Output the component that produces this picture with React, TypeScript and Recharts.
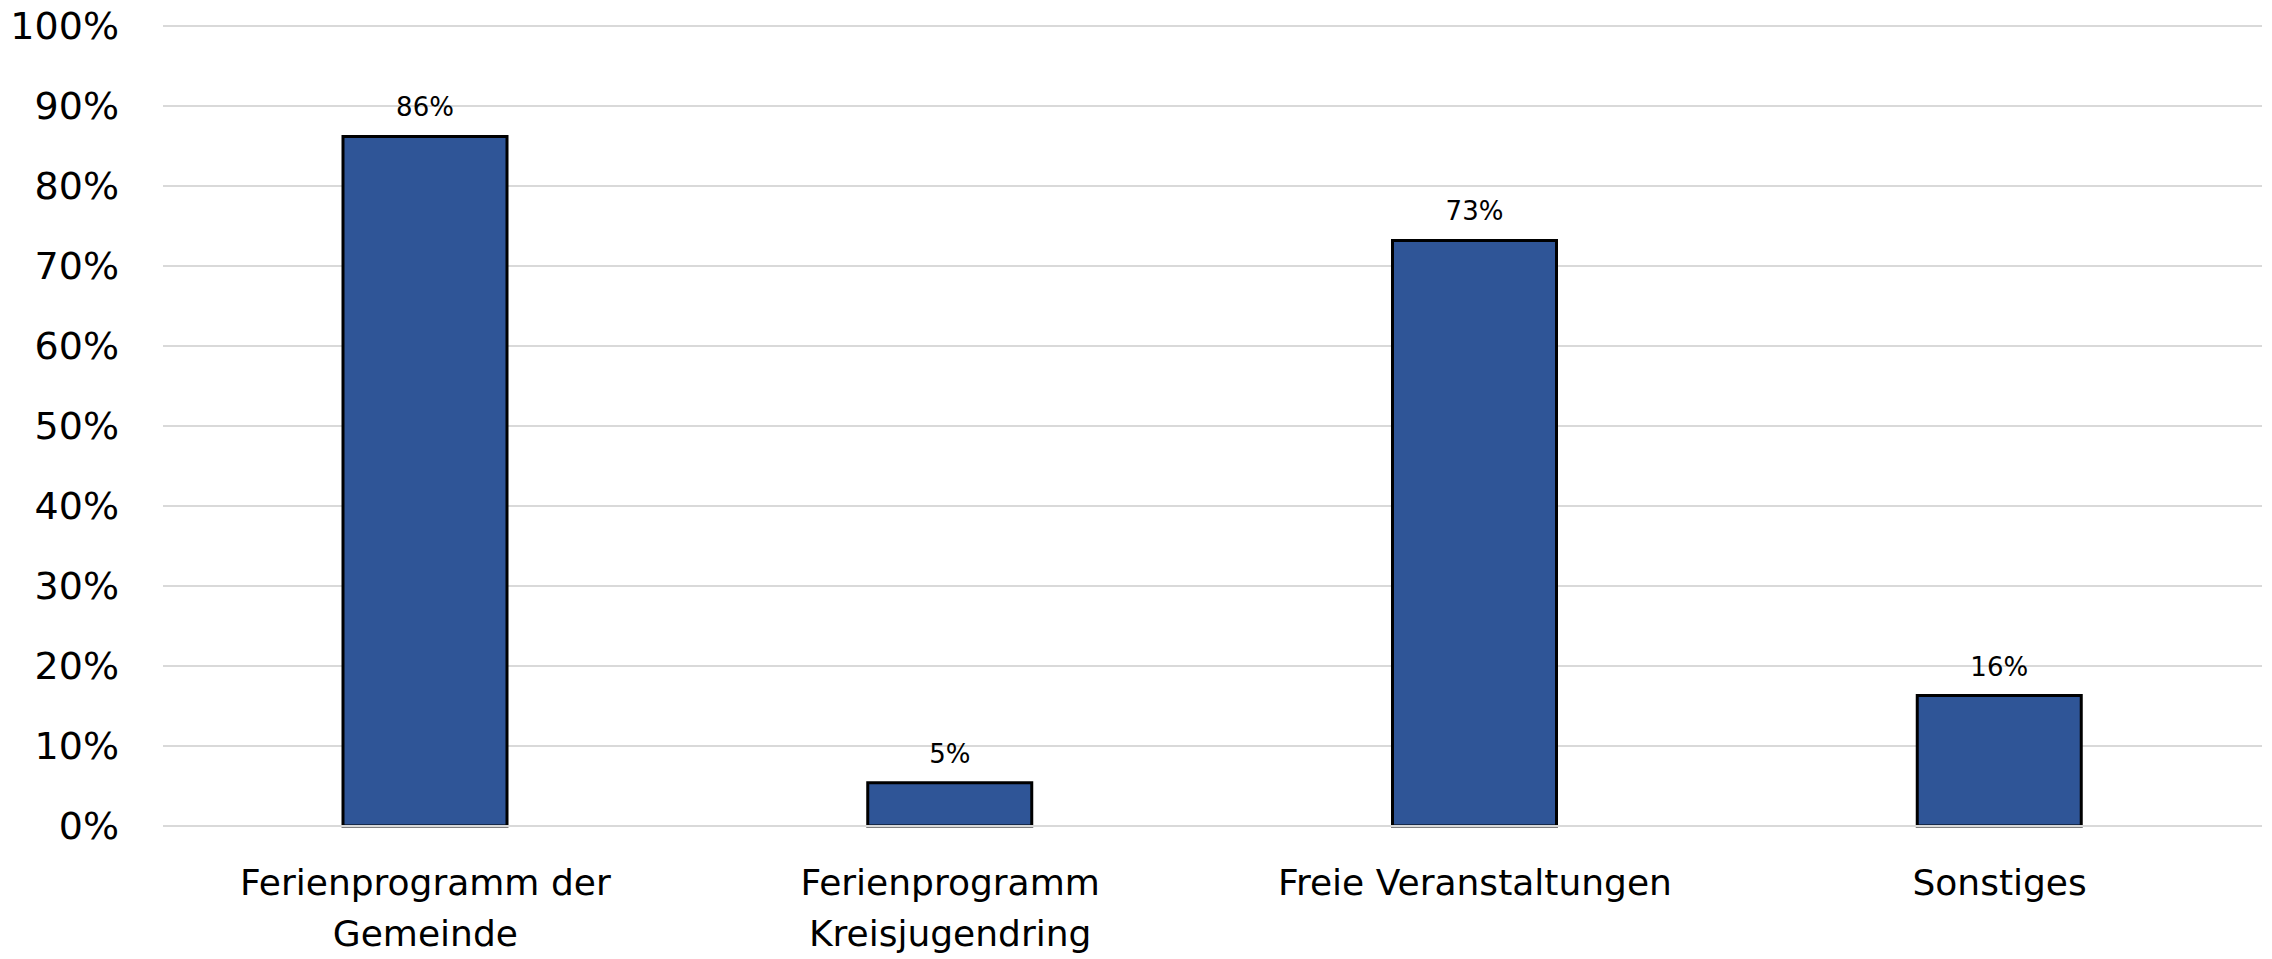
import React from 'react';
import { BarChart, Bar, XAxis, YAxis, CartesianGrid, LabelList } from 'recharts';

// Bar colours / font
const BAR_FILL = '#2F5597';
const GRID_COLOR = '#d9d9d9';
const FONT = '"DejaVu Sans", Verdana, sans-serif';

// Categories (line breaks as in the original axis labels)
const categories = [
  'Ferienprogramm der\nGemeinde',
  'Ferienprogramm\nKreisjugendring',
  'Freie Veranstaltungen',
  'Sonstiges',
];

// Share of answers in percent
const shares = [86.2, 5.4, 73.2, 16.3];

// Y axis ticks
const yTicks = [0, 10, 20, 30, 40, 50, 60, 70, 80, 90, 100];

const data = categories.map((name, i) => ({ name, value: shares[i] }));

// two-line category labels under the bars
const CategoryTick = (props: any) => {
  const { x, y, payload } = props;
  const lines = String(payload.value).split('\n');
  return (
    <text x={x} y={y} textAnchor="middle" fill="#000" fontSize={36} fontFamily={FONT}>
      {lines.map((line, i) => (
        <tspan key={i} x={x} dy={i === 0 ? 63 : 51}>
          {line}
        </tspan>
      ))}
    </text>
  );
};

const App: React.FC = () => {
  return (
    <div style={{ position: 'absolute', left: 0, top: 0, background: '#fff' }}>
      <BarChart
        width={2272}
        height={959}
        data={data}
        margin={{ top: 26, right: 10, left: 0, bottom: 33 }}
      >
        <CartesianGrid vertical={false} stroke={GRID_COLOR} strokeWidth={2} />
        <XAxis
          dataKey="name"
          interval={0}
          height={100}
          tickLine={false}
          tickMargin={0}
          axisLine={{ stroke: GRID_COLOR, strokeWidth: 2 }}
          tick={<CategoryTick />}
        />
        <YAxis
          width={163}
          domain={[0, 100]}
          ticks={yTicks}
          axisLine={false}
          tickLine={false}
          tickMargin={38}
          tickFormatter={(v) => `${v}%`}
          tick={{ fill: '#000', fontSize: 38, fontFamily: FONT }}
        />
        <Bar
          dataKey="value"
          fill={BAR_FILL}
          stroke="#000"
          strokeWidth={3}
          barSize={164}
          isAnimationActive={false}
        >
          <LabelList
            dataKey="value"
            position="top"
            offset={20}
            formatter={(v: any) => `${Math.round(Number(v))}%`}
            style={{ fill: '#000', fontSize: 26, fontFamily: FONT }}
          />
        </Bar>
      </BarChart>
    </div>
  );
};

export default App;
